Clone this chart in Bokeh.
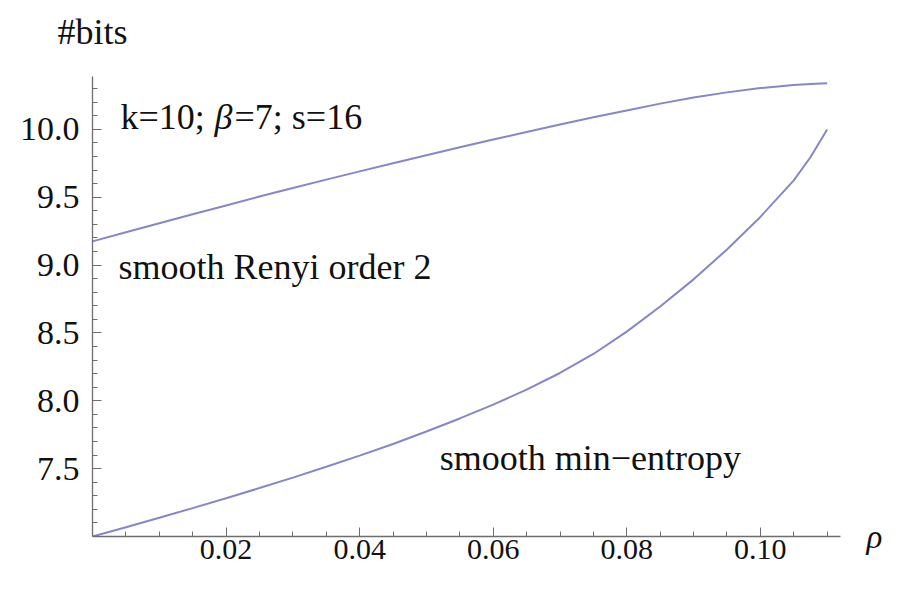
from bokeh.plotting import figure
from bokeh.models import (Range1d, FixedTicker, PrintfTickFormatter, Label,
                          LinearAxis, CustomJSTickFormatter)
from bokeh.embed import file_html
from bokeh.resources import INLINE

# ---- data ----
rho = [0.000, 0.005, 0.010, 0.015, 0.020, 0.025, 0.030, 0.035, 0.040, 0.045,
       0.050, 0.055, 0.060, 0.065, 0.070, 0.075, 0.080, 0.085, 0.090, 0.095,
       0.100, 0.105, 0.1075, 0.110]
renyi2 = [9.175, 9.242, 9.309, 9.375, 9.440, 9.505, 9.568, 9.630, 9.691, 9.751,
          9.810, 9.868, 9.925, 9.981, 10.036, 10.089, 10.140, 10.190, 10.235, 10.273,
          10.305, 10.327, 10.335, 10.340]
minent = [7.000, 7.068, 7.138, 7.209, 7.282, 7.357, 7.434, 7.514, 7.596, 7.682,
          7.774, 7.870, 7.972, 8.082, 8.205, 8.345, 8.510, 8.695, 8.895, 9.115,
          9.355, 9.625, 9.795, 10.000]

x_ticks = [0.02, 0.04, 0.06, 0.08, 0.10]
y_ticks = [7.5, 8.0, 8.5, 9.0, 9.5, 10.0]
x_minor = [0.005, 0.010, 0.015, 0.025, 0.030, 0.035, 0.045, 0.050, 0.055, 0.065,
           0.070, 0.075, 0.085, 0.090, 0.095, 0.105, 0.110]
y_minor = [7.1, 7.2, 7.3, 7.4, 7.6, 7.7, 7.8, 7.9, 8.1, 8.2, 8.3, 8.4, 8.6, 8.7,
           8.8, 8.9, 9.1, 9.2, 9.3, 9.4, 9.6, 9.7, 9.8, 9.9, 10.1, 10.2, 10.3]

x_label = "\u03c1"
y_label = "#bits"

FONT = "Liberation Serif"
LINE = "#8686c8"
AXIS = "#6e6e6e"
TXT = "#111111"

p = figure(width=885, height=574, output_backend="svg", toolbar_location=None,
           x_range=Range1d(0.0, 0.112), y_range=Range1d(7.0, 10.39),
           min_border_left=92, min_border_right=40, min_border_top=76,
           min_border_bottom=38, title=None)
p.grid.visible = False
p.outline_line_color = None
p.background_fill_color = "white"
p.border_fill_color = "white"

p.line(rho, renyi2, line_color=LINE, line_width=2)
p.line(rho, minent, line_color=LINE, line_width=2)

for ax, ticks, minor, fmt in ((p.xaxis[0], x_ticks, x_minor, "%.2f"),
                              (p.yaxis[0], y_ticks, y_minor, "%.1f")):
    ax.ticker = FixedTicker(ticks=ticks, minor_ticks=minor)
    ax.formatter = PrintfTickFormatter(format=fmt)
    ax.axis_line_color = AXIS
    ax.axis_line_width = 1.3
    ax.major_tick_line_color = AXIS
    ax.minor_tick_line_color = AXIS
    ax.major_tick_in = 9
    ax.major_tick_out = 0
    ax.minor_tick_in = 5
    ax.minor_tick_out = 0
    ax.major_label_text_font = FONT
    ax.major_label_text_color = TXT

p.xaxis.major_label_text_font_size = "30px"
p.yaxis.major_label_text_font_size = "34px"
p.xaxis.major_label_standoff = 3
p.yaxis.major_label_standoff = 13


def name_axis(text, tick, standoff, size, style):
    ax = LinearAxis(ticker=FixedTicker(ticks=[tick], minor_ticks=[]),
                    formatter=CustomJSTickFormatter(code="return '%s';" % text))
    ax.axis_line_color = None
    ax.major_tick_line_color = None
    ax.minor_tick_line_color = None
    ax.major_label_standoff = standoff
    ax.major_label_text_font = FONT
    ax.major_label_text_font_size = size
    ax.major_label_text_font_style = style
    ax.major_label_text_color = TXT
    return ax

# axis names: rho at the end of the horizontal axis, #bits above the vertical one
p.add_layout(name_axis(x_label, 7.0, 20, "33px", "italic"), "right")
p.add_layout(name_axis(y_label, 0.0, 19, "36px", "normal"), "above")


def lab(x, y, text, style="normal", **kw):
    p.add_layout(Label(x=x, y=y, text=text, text_font=FONT, text_font_size="36px",
                       text_font_style=style, text_color=TXT,
                       text_baseline="alphabetic", y_offset=12, **kw))

lab(0.0042, 10.0, "k=10; ")
lab(0.0042, 10.0, "\u03b2", style="italic", x_offset=94)
lab(0.0042, 10.0, "=7; s=16", x_offset=114)
lab(0.0039, 8.90, "smooth Renyi order 2")
lab(0.052, 7.49, "smooth min\u2212entropy")

open("out.html", "w").write(file_html(p, INLINE))
